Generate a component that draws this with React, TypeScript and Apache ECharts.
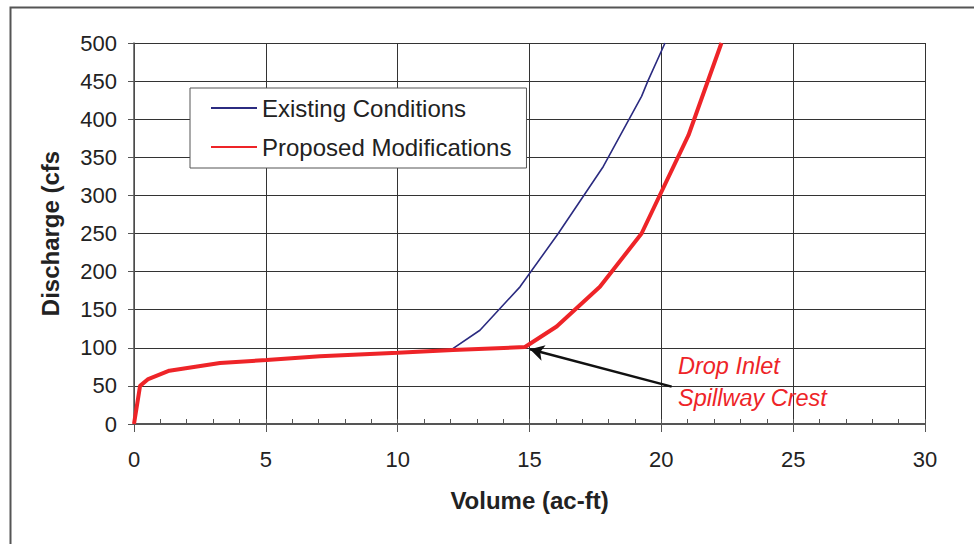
import React, { useEffect, useRef } from "react";
import * as echarts from "echarts";

const existingX = [0, 0.23, 0.54, 1.34, 3.26, 5.03, 7.05, 10.0, 12.05, 13.12, 14.64, 16.09, 17.8, 19.25, 19.5, 20.14];
const existingY = [0, 50, 59, 70, 80, 84, 89, 93.6, 98, 123, 180, 250, 338, 430, 451, 500];
const proposedX = [0, 0.23, 0.54, 1.34, 3.26, 5.03, 7.05, 10.0, 12.1, 14.83, 16.03, 17.67, 19.25, 21.03, 22.28];
const proposedY = [0, 50, 59, 70, 80, 84, 89, 93.6, 97, 101, 128, 180, 250, 379, 500];
const seriesNames = ["Existing Conditions", "Proposed Modifications"];
const arrowFrom = [20.39, 49];
const arrowTo = [15.02, 98];
const noteLines = ["Drop Inlet", "Spillway Crest"];

const FONT = 'Arial, "Liberation Sans", sans-serif';

export default function App() {
  const ref = useRef<HTMLDivElement>(null);
  useEffect(() => {
    if (!ref.current) return;
    const chart = echarts.init(ref.current, undefined, { renderer: "svg" });
    const zip = (xs: number[], ys: number[]) => xs.map((x, i) => [x, ys[i]]);
    chart.setOption({
      animation: false,
      backgroundColor: "#fff",
      textStyle: { fontFamily: FONT },
      grid: { left: 134, right: 49, top: 43, bottom: 120, containLabel: false },
      legend: {
        orient: "vertical",
        left: 190,
        top: 88,
        padding: [7, 15, 8, 20],
        itemWidth: 46,
        itemHeight: 14,
        itemGap: 13,
        backgroundColor: "#fff",
        borderColor: "#555",
        borderWidth: 1,
        borderRadius: 0,
        data: seriesNames,
        itemStyle: { opacity: 0 },
        textStyle: { fontSize: 24, color: "#222", fontFamily: FONT, lineHeight: 26 },
      },
      xAxis: [
        {
          type: "value",
          min: 0,
          max: 30,
          interval: 5,
          name: "Volume (ac-ft)",
          nameLocation: "middle",
          nameGap: 64,
          nameTextStyle: { fontSize: 24, fontWeight: "bold", color: "#222", fontFamily: FONT },
          axisLine: { show: true, onZero: false, lineStyle: { color: "#555", width: 2 } },
          axisTick: { show: true, inside: false, length: 8, lineStyle: { color: "#555", width: 1 } },
          axisLabel: { fontSize: 22, color: "#222", margin: 24, fontFamily: FONT },
          splitLine: { show: true, lineStyle: { color: "#333", width: 1 } },
        },
        {
          type: "value",
          position: "bottom",
          min: 0,
          max: 30,
          interval: 1,
          axisLine: { show: false },
          axisTick: { show: true, inside: true, length: 5, lineStyle: { color: "#555", width: 1 } },
          axisLabel: { show: false },
          splitLine: { show: false },
        },
      ],
      yAxis: {
        type: "value",
        min: 0,
        max: 500,
        interval: 50,
        name: "Discharge (cfs",
        nameLocation: "middle",
        nameGap: 72,
        nameTextStyle: { fontSize: 24, fontWeight: "bold", color: "#222", fontFamily: FONT },
        axisLine: { show: true, onZero: false, lineStyle: { color: "#555", width: 1.5 } },
        axisTick: { show: true, inside: false, length: 6, lineStyle: { color: "#555", width: 1 } },
        axisLabel: { fontSize: 22, color: "#222", margin: 17, fontFamily: FONT },
        splitLine: { show: true, lineStyle: { color: "#333", width: 1 } },
      },
      series: [
        {
          name: seriesNames[0],
          type: "line",
          xAxisIndex: 0,
          data: zip(existingX, existingY),
          showSymbol: false,
          symbol: "none",
          lineStyle: { color: "#2b2b80", width: 1.6 },
          itemStyle: { color: "#2b2b80" },
          z: 3,
        },
        {
          name: seriesNames[1],
          type: "line",
          xAxisIndex: 0,
          data: zip(proposedX, proposedY),
          showSymbol: false,
          symbol: "none",
          lineStyle: { color: "#ee2428", width: 4 },
          itemStyle: { color: "#ee2428" },
          z: 4,
          markLine: {
            silent: true,
            symbol: ["none", "arrow"],
            symbolSize: [12, 14],
            label: { show: false },
            lineStyle: { color: "#111", width: 2.5, type: "solid" },
            data: [[{ coord: arrowFrom }, { coord: arrowTo }]],
          },
        },
      ],
      graphic: [
        {
          type: "rect",
          left: 8,
          top: 5,
          shape: { width: 1200, height: 800 },
          style: { fill: "none", stroke: "#555", lineWidth: 2 },
          silent: true,
          z: 0,
        },
        {
          type: "text",
          left: 678,
          top: 354,
          style: { text: noteLines[0], fill: "#ee2428", font: `italic 23.5px ${FONT}` },
          z: 10,
        },
        {
          type: "text",
          left: 678,
          top: 386,
          style: { text: noteLines[1], fill: "#ee2428", font: `italic 23.5px ${FONT}` },
          z: 10,
        },
      ],
    });
    return () => chart.dispose();
  }, []);
  return (
    <div
      ref={ref}
      style={{ position: "fixed", left: 0, top: 0, width: 974, height: 544 }}
    />
  );
}
